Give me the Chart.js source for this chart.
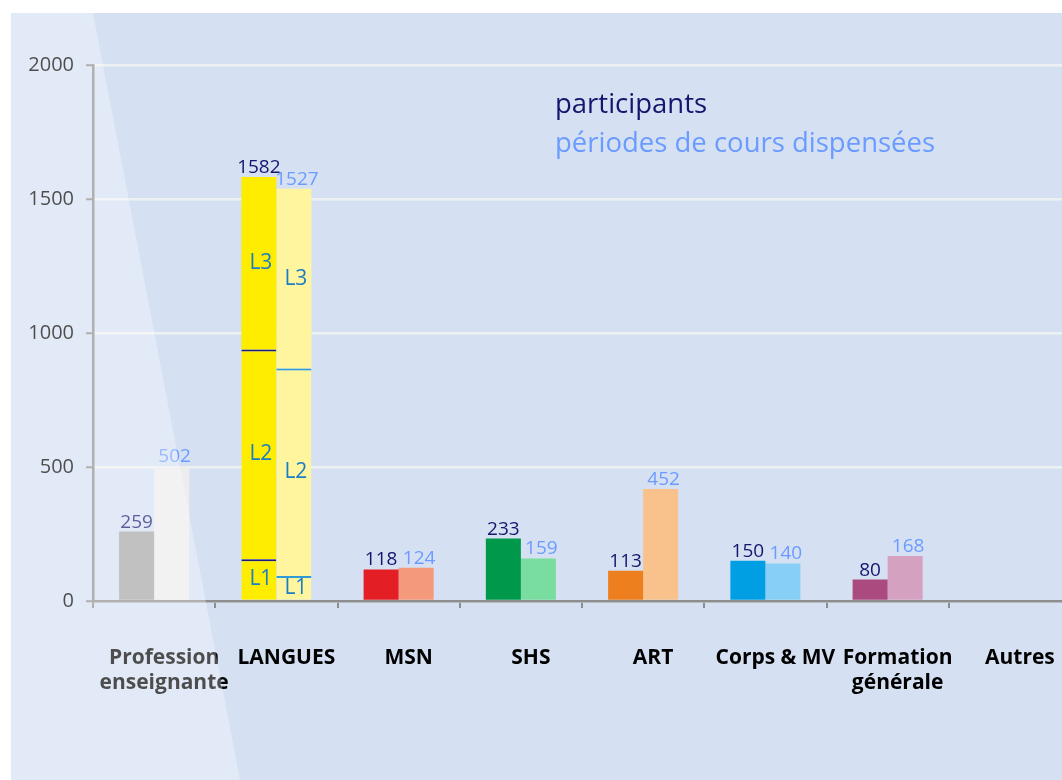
<!DOCTYPE html>
<html><head><meta charset="utf-8">
<script src="https://cdn.jsdelivr.net/npm/chart.js@4.4.1/dist/chart.umd.min.js"></script>
<style>html,body{margin:0;padding:0;overflow:hidden;background:#fff}canvas{display:block}</style>
</head><body>
<canvas id="c" width="1090" height="780"></canvas>
<script>
// ---- data ----
const categories = [['Profession','enseignante'],'LANGUES','MSN','SHS','ART','Corps & MV',['Formation','générale'],'Autres'];
const seriesNames = ['participants','périodes de cours dispensées'];
// bar heights; for LANGUES the first array holds segment L1, then L2, L3
const participantsBase = [259,156,118,233,113,150,80,null];
const participantsL2   = [null,782,null,null,null,null,null,null];
const participantsL3   = [null,644,null,null,null,null,null,null];
const periodsBase      = [502,93,124,159,418,140,168,null];
const periodsL2        = [null,775,null,null,null,null,null,null];
const periodsL3        = [null,670,null,null,null,null,null,null];
// printed value labels
const participantsLabels = ['259','1582','118','233','113','150','80',''];
const periodsLabels      = ['502','1527','124','159','452','140','168',''];
const segmentNames = ['L1','L2','L3'];
const yTickValues = [0,500,1000,1500,2000];

// ---- styles ----
const FONT = "'Open Sans', sans-serif";
const partColors = ['#A6A6A6','#FFED00','#E31E24','#00984A','#EE7F1F','#009FE3','#AA4A7E','#999'];
const perColors  = ['#EDEDED','#FFF59E','#F4997B','#7ADDA0','#F9C28D','#88CFF5','#D4A2C0','#ccc'];
const partText = '#15156E', perText = '#6C9BFF', segText = '#1B7DC6';
const langIdx = 1;

const segBorder = (color) => ({
  borderColor: color,
  borderWidth: (ctx) => ctx.dataIndex === langIdx ? {top:2,left:0,right:0,bottom:0} : 0,
  borderSkipped: false
});

const datasets = [
  {label: seriesNames[0], data: participantsBase, stack:'p', backgroundColor: partColors, ...segBorder('#1C1C78'), seg:0, labels: participantsLabels},
  {label: seriesNames[0]+' L2', data: participantsL2, stack:'p', backgroundColor: partColors, ...segBorder('#1C1C78'), seg:1},
  {label: seriesNames[0]+' L3', data: participantsL3, stack:'p', backgroundColor: partColors, seg:2},
  {label: seriesNames[1], data: periodsBase, stack:'c', backgroundColor: perColors, ...segBorder('#2E9BD6'), seg:0, labels: periodsLabels},
  {label: seriesNames[1]+' L2', data: periodsL2, stack:'c', backgroundColor: perColors, ...segBorder('#2E9BD6'), seg:1},
  {label: seriesNames[1]+' L3', data: periodsL3, stack:'c', backgroundColor: perColors, seg:2},
];

const deco = {
  id: 'deco',
  beforeDraw(chart) {
    const c = chart.ctx;
    c.save();
    c.fillStyle = '#fff'; c.fillRect(0,0,chart.width,chart.height);
    c.fillStyle = '#D5E1F2'; c.fillRect(11,13,chart.width-11,chart.height-13);
    c.restore();
  },
  afterDatasetsDraw(chart) {
    const c = chart.ctx;
    c.save();
    c.textAlign = 'center';
    ['p','c'].forEach((stk, si) => {
      const dsIdx = chart.data.datasets.map((d,i)=>i).filter(i => chart.data.datasets[i].stack === stk);
      const labels = chart.data.datasets[dsIdx[0]].labels;
      categories.forEach((_, i) => {
        let top = null;
        dsIdx.forEach(di => {
          const v = chart.data.datasets[di].data[i];
          if (v == null) return;
          const el = chart.getDatasetMeta(di).data[i];
          if (!top || el.y < top.y) top = el;
        });
        if (!top || !labels[i]) return;
        c.font = `19px ${FONT}`;
        c.fillStyle = si === 0 ? partText : perText;
        c.textBaseline = 'alphabetic';
        c.fillText(labels[i], top.x + (si === 1 ? 3 : 0), top.y - 4);
      });
      dsIdx.forEach(di => {
        const ds = chart.data.datasets[di];
        const el = chart.getDatasetMeta(di).data[langIdx];
        if (ds.data[langIdx] == null) return;
        c.font = `21px ${FONT}`;
        c.fillStyle = segText;
        c.textBaseline = 'middle';
        c.fillText(segmentNames[ds.seg], el.x + 2, (el.y + el.base) / 2);
      });
    });
    c.restore();
  },
  afterDraw(chart) {
    const c = chart.ctx;
    c.save();
    c.textAlign = 'left'; c.textBaseline = 'alphabetic';
    c.font = `27.5px ${FONT}`;
    c.fillStyle = partText; c.fillText(seriesNames[0], 555, 113);
    c.fillStyle = perText; c.fillText(seriesNames[1], 555, 152);
    c.fillStyle = 'rgba(255,255,255,0.3)';
    c.beginPath();
    c.moveTo(11,13); c.lineTo(93,13); c.lineTo(240,chart.height); c.lineTo(11,chart.height);
    c.closePath(); c.fill();
    c.restore();
  }
};

new Chart(document.getElementById('c'), {
  type: 'bar',
  data: { labels: categories, datasets },
  options: {
    responsive: false,
    animation: false,
    layout: { padding: { top: 65, right: 19, left: 0, bottom: 0 } },
    categoryPercentage: 0.573,
    barPercentage: 1,
    plugins: { legend: { display: false }, tooltip: { enabled: false } },
    scales: {
      x: {
        stacked: true,
        afterFit(s) { s.height = 179; },
        border: { color: '#8E8E8E', width: 2.5 },
        grid: { drawOnChartArea: false, drawTicks: true, tickLength: 7, color: '#8E8E8E', lineWidth: 2, offset: true },
        ticks: { color: '#000', font: { family: FONT, size: 21, weight: 'bold' }, padding: 37, labelOffset: 10, maxRotation: 0, autoSkip: false }
      },
      y: {
        stacked: true,
        min: 0, max: 2000,
        afterFit(s) { s.width = 93; },
        afterBuildTicks(s) { s.ticks = yTickValues.map(v => ({ value: v })); },
        border: { color: '#8E8E8E', width: 2.5 },
        grid: { color: '#EEF1F4', lineWidth: 2.5, tickLength: 7, tickColor: '#8E8E8E', tickWidth: 2 },
        ticks: { color: '#000', font: { family: FONT, size: 20 }, padding: 12, callback: (v) => String(v) }
      }
    }
  },
  plugins: [deco]
});
</script>
</body></html>
